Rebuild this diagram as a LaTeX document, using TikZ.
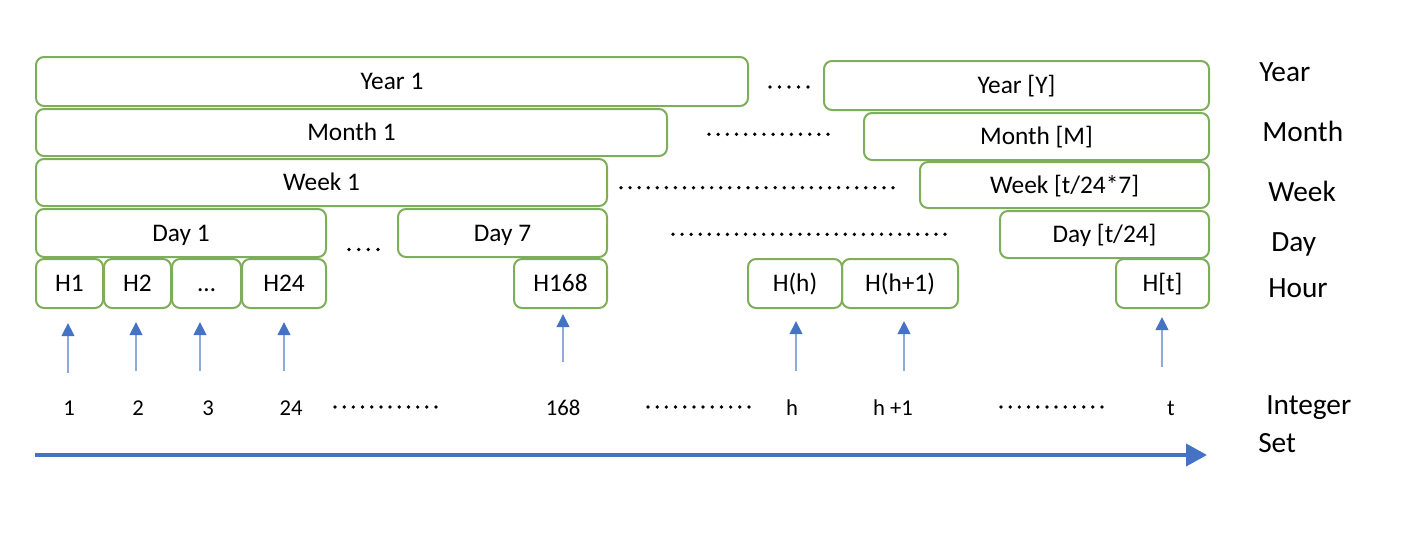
\documentclass[tikz,border=0pt]{standalone}
\usepackage{fontspec}
\setmainfont{Carlito}
\usetikzlibrary{arrows.meta}
\definecolor{gbox}{HTML}{7FAE5B}
\definecolor{bluec}{HTML}{4472C4}
\definecolor{shaftc}{HTML}{8EA9DB}
\begin{document}
\begin{tikzpicture}[x=0.75pt,y=-0.75pt,
  tbox/.style 2 args={draw=gbox, line width=1.5pt, rounded corners=6pt,
    minimum width=#1*0.75pt, minimum height=#2*0.75pt, inner sep=0pt,
    font=\fontsize{19}{22}\selectfont, text height=14.2pt, text depth=2pt},
  rlab/.style={anchor=base west, inner sep=0pt, font=\fontsize{22}{26}\selectfont},
  nlab/.style={anchor=base, inner sep=0pt, font=\fontsize{17}{20}\selectfont},
  dotrow/.style={line width=2.8pt, line cap=round, dash pattern=on 0pt off #1},
  uparrow/.style={line width=1.1pt, draw=shaftc, -{Triangle[length=9.75pt,width=9.5pt,color=bluec]}},
  axisarrow/.style={line width=3pt, draw=bluec, -{Triangle[length=15.75pt,width=16.5pt]}}]
\useasboundingbox (0,0) rectangle (1422,536);

% Year row
\node[tbox={712}{49}] (y1) at (392,81.5) {Year 1};
\node[tbox={385}{49}] (yY) at (1016.5,85.5) {Year [Y]};
% Month row
\node[tbox={631}{47}] (m1) at (351.5,132.5) {Month 1};
\node[tbox={345}{47}] (mM) at (1036.5,136.5) {Month [M]};
% Week row
\node[tbox={571}{47}] (w1) at (321.5,182.5) {Week 1};
\node[tbox={289}{46}] (wT) at (1064.5,185) {Week [t/24*7]};
% Day row
\node[tbox={290}{48}] (d1) at (181,233) {Day 1};
\node[tbox={209}{48}] (d7) at (502.5,233) {Day 7};
\node[tbox={209}{47}] (dT) at (1104.5,234.5) {Day [t/24]};
% Hour row
\node[tbox={67}{49}] (h1) at (69.5,283.5) {H1};
\node[tbox={67}{49}] (h2) at (137.5,283.5) {H2};
\node[tbox={69}{49}] (h3) at (206.5,283.5) {…};
\node[tbox={84}{49}] (h24) at (284,283.5) {H24};
\node[tbox={93}{49}] (h168) at (560.5,283.5) {H168};
\node[tbox={94}{49}] (hh) at (795,283.5) {H(h)};
\node[tbox={116}{49}] (hh1) at (900,283.5) {H(h+1)};
\node[tbox={93}{49}] (ht) at (1162.5,283.5) {H[t]};

% dotted gaps
\draw[dotrow=7.125pt] (770,87) -- (808.8,87);
\draw[dotrow=6.865pt] (709,134.3) -- (828.8,134.3);
\draw[dotrow=6.8pt] (621,187.7) -- (893.8,187.7);
\draw[dotrow=6.8pt] (673,234.3) -- (945.8,234.3);
\draw[dotrow=7.25pt] (349,249.5) -- (378.8,249.5);
\draw[dotrow=6.886pt] (335,407) -- (436,407);
\draw[dotrow=6.886pt] (648,407) -- (749,407);
\draw[dotrow=6.886pt] (1001,407) -- (1102,407);

% level labels
\node[rlab] (lyear) at (1259,81.7) {Year};
\node[rlab] (lmonth) at (1262,141.7) {Month};
\node[rlab] (lweek) at (1268,201.7) {Week};
\node[rlab] (lday) at (1271,251.7) {Day};
\node[rlab] (lhour) at (1268,297.7) {Hour};
\node[rlab] (lint) at (1266,414.3) {Integer};
\node[rlab] (lset) at (1258,452.7) {Set};

% integer labels
\node[nlab] (n1) at (69,415) {1};
\node[nlab] (n2) at (138,415) {2};
\node[nlab] (n3) at (208,415) {3};
\node[nlab] (n24) at (291,415) {24};
\node[nlab] (n168) at (563,415) {168};
\node[nlab] (nh) at (792,415) {h};
\node[nlab] (nh1) at (893,415) {h +1};
\node[nlab] (nt) at (1171,415) {t};

% up arrows
\foreach \nm/\xx/\yt/\yb in {a1/68/323/373, a2/136/322/371, a3/200/322/371, a24/284/322/371,
  a168/563/314/362, ah/796/321/371, ah1/904/321/371, at/1162/317/367}{
  \coordinate (\nm s) at (\xx,\yb);
  \coordinate (\nm e) at (\xx,\yt);
  \draw[uparrow] (\nm s) -- (\nm e);
}

% axis
\coordinate (axs) at (35,455);
\coordinate (axe) at (1207,455);
\draw[axisarrow] (axs) -- (axe);
\end{tikzpicture}
\end{document}
